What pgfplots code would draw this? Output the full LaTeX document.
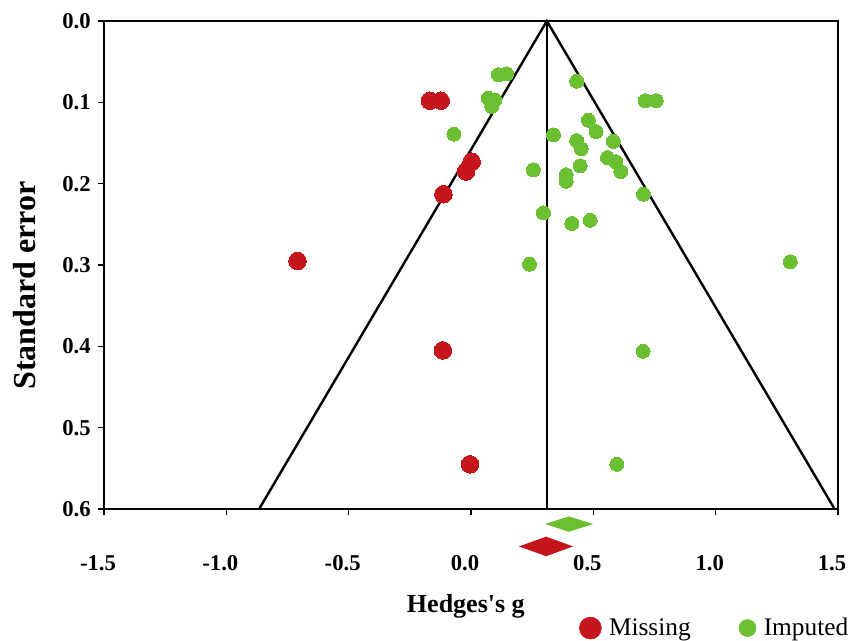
\documentclass[border=0pt]{standalone}
\usepackage{fontspec}
\setmainfont{Liberation Serif}[Ligatures=TeXOff]
\usepackage{pgfplots}
\pgfplotsset{compat=1.18}
\definecolor{mred}{RGB}{196,22,28}
\definecolor{mgreen}{RGB}{106,192,48}

\begin{document}
\begin{tikzpicture}
\useasboundingbox (-78pt,-98.25pt) rectangle (561.75pt,381.75pt);
\begin{axis}[
  at={(0,0)}, anchor=south west,
  scale only axis, width=550.5pt, height=366pt,
  xmin=-1.5, xmax=1.5, ymin=0, ymax=0.6, y dir=reverse,
  clip=false,
  axis line style={line width=2pt},
  xtick={-1.5,-1,-0.5,0,0.5,1,1.5},
  xticklabels={-1.5,-1.0,-0.5,0.0,0.5,1.0,1.5},
  ytick={0,0.1,0.2,0.3,0.4,0.5,0.6},
  yticklabels={0.0,0.1,0.2,0.3,0.4,0.5,0.6},
  xtick pos=bottom, ytick pos=left,
  tick align=outside, major tick length=4.5pt,
  tick style={black, line width=0.8pt},
  ticklabel style={font=\fontsize{17}{20}\selectfont\bfseries},
  xticklabel style={yshift=-27pt, xshift=-4.5pt},
  yticklabel style={xshift=-2pt},
  xlabel={Hedges's g}, ylabel={Standard error},
  xlabel style={at={(axis description cs:0.493,-0.213)}, anchor=base, font=\fontsize{19.5}{22}\selectfont\bfseries},
  ylabel style={at={(axis description cs:-0.094,0.458)}, anchor=base, font=\fontsize{24}{28}\selectfont\bfseries},
  legend style={at={(axis description cs:0.6415,-0.244)}, anchor=west, draw=none, fill=none,
    legend columns=2, font=\fontsize{19}{22}\selectfont,
    /tikz/every even column/.append style={column sep=34pt}},
  legend cell align=left,
]
% funnel
\addplot[black, line width=1.8pt, forget plot] coordinates {(-0.866,0.6) (0.31,0) (1.486,0.6)};
\addplot[black, line width=1.5pt, forget plot] coordinates {(0.31,0) (0.31,0.6)};
% imputed studies
\addplot[only marks, mark=*, mark size=5.25pt, mark options={fill=mgreen, draw=mgreen, line width=0pt}, forget plot] coordinates {
(0.112,0.066) (0.146,0.065) (0.432,0.074)
(0.071,0.095) (0.098,0.097) (0.085,0.105)
(0.712,0.098) (0.757,0.098)
(-0.070,0.139) (0.337,0.140) (0.480,0.122) (0.511,0.136)
(0.432,0.147) (0.450,0.157) (0.582,0.148)
(0.558,0.168) (0.592,0.173) (0.612,0.185)
(0.446,0.178) (0.255,0.183) (0.389,0.189) (0.389,0.197)
(0.705,0.213) (0.296,0.236) (0.412,0.249) (0.487,0.245)
(0.239,0.299) (1.305,0.296) (0.703,0.406) (0.596,0.545)
};
% missing studies
\addplot[only marks, mark=*, mark size=6.6pt, mark options={fill=mred, draw=mred, line width=0pt}, forget plot] coordinates {
(-0.168,0.098) (-0.124,0.098) (0.003,0.173) (-0.020,0.185)
(-0.113,0.213) (-0.709,0.295) (-0.115,0.405) (-0.004,0.545)
};
% summary diamonds
\addplot[fill=mgreen, draw=none, forget plot] coordinates {(0.303,0.6185) (0.40,0.609) (0.499,0.6185) (0.40,0.628) (0.303,0.6185)};
\addplot[fill=mred, draw=none, forget plot] coordinates {(0.196,0.646) (0.307,0.634) (0.417,0.646) (0.307,0.658) (0.196,0.646)};
% legend
\addlegendimage{legend image code/.code={\fill[mred] (0pt,0pt) circle (8.25pt); \path[draw=none,fill=none] (0pt,0pt) -- (12pt,0pt);}}
\addlegendentry{Missing}
\addlegendimage{legend image code/.code={\fill[mgreen] (0pt,0pt) circle (6.4pt); \path[draw=none,fill=none] (0pt,0pt) -- (10.2pt,0pt);}}
\addlegendentry{Imputed}
\end{axis}
\end{tikzpicture}
\end{document}
